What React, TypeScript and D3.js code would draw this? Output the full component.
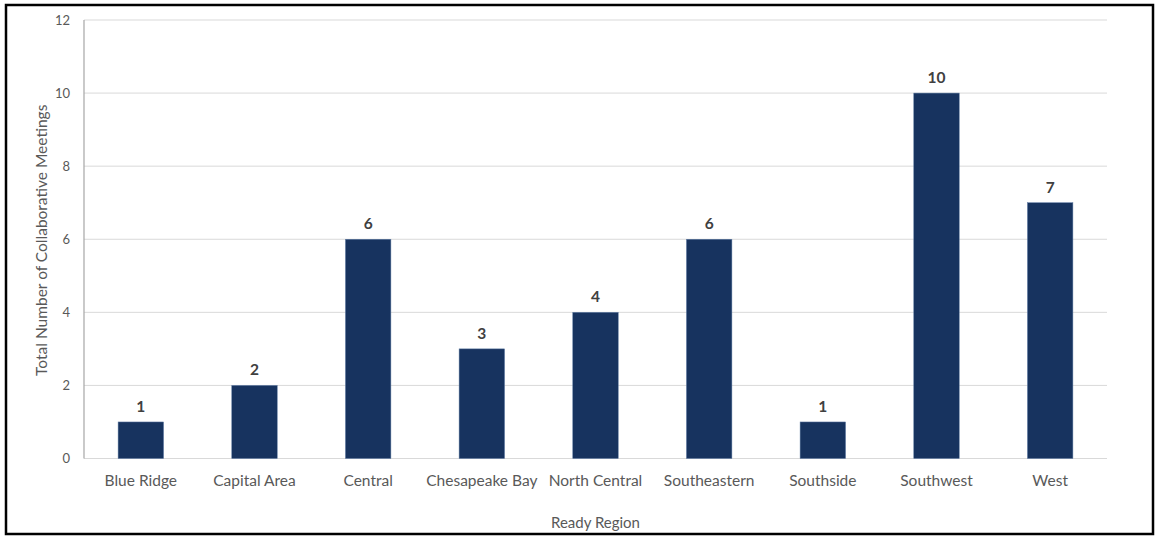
import React from "react";
import * as d3 from "d3";

const categories = ["Blue Ridge", "Capital Area", "Central", "Chesapeake Bay", "North Central", "Southeastern", "Southside", "Southwest", "West"];
const meetings = [1, 2, 6, 3, 4, 6, 1, 10, 7];
const yTicks = [0, 2, 4, 6, 8, 10, 12];
const xTitle = "Ready Region";
const yTitle = "Total Number of Collaborative Meetings";

const W = 1156;
const H = 536;
const left = 84;
const right = 1107;
const top = 20;
const bottom = 458.5;
const FONT = "Lato, 'Open Sans', sans-serif";

export default function App() {
  const x = d3.scaleBand<string>().domain(categories).range([left, right]).paddingInner(0.6).paddingOuter(0.3);
  const y = d3.scaleLinear().domain([0, 12]).range([bottom, top]);

  return (
    <svg width={W} height={H} style={{ position: "absolute", left: 0, top: 0, background: "#fff" }}>
      <rect x={0} y={0} width={W} height={H} fill="#fff" />
      <rect x={6} y={5} width={1147} height={529} fill="none" stroke="#000" strokeWidth={2.5} />
      {yTicks.map((t) => (
        <g key={t}>
          <line x1={left} x2={right} y1={y(t)} y2={y(t)} stroke="#d9d9d9" strokeWidth={1} />
          <text x={70} y={y(t)} dy="0.35em" textAnchor="end" fontFamily={FONT} fontSize={13} fill="#595959">{t}</text>
        </g>
      ))}
      <line x1={left} x2={left} y1={top} y2={bottom} stroke="#a6a6a6" strokeWidth={1.2} />
      {categories.map((c, i) => {
        const bx = x(c)!;
        const bw = x.bandwidth();
        const v = meetings[i];
        return (
          <g key={c}>
            <rect x={bx} y={y(v)} width={bw} height={bottom - y(v)} fill="#17335f" stroke="#5f7ba3" strokeWidth={0.5} />
            <text x={bx + bw / 2} y={y(v) - 10} textAnchor="middle" fontFamily={FONT} fontWeight="bold" fontSize={15.5} fill="#404040">{v}</text>
            <text x={bx + bw / 2} y={486} textAnchor="middle" fontFamily={FONT} fontSize={15.5} fill="#595959">{c}</text>
          </g>
        );
      })}
      <text x={(left + right) / 2} y={528} textAnchor="middle" fontFamily={FONT} fontSize={15} fill="#595959">{xTitle}</text>
      <text transform={`translate(47, ${(top + bottom) / 2 + 1}) rotate(-90)`} textAnchor="middle" fontFamily={FONT} fontSize={15.5} fill="#595959">{yTitle}</text>
    </svg>
  );
}
